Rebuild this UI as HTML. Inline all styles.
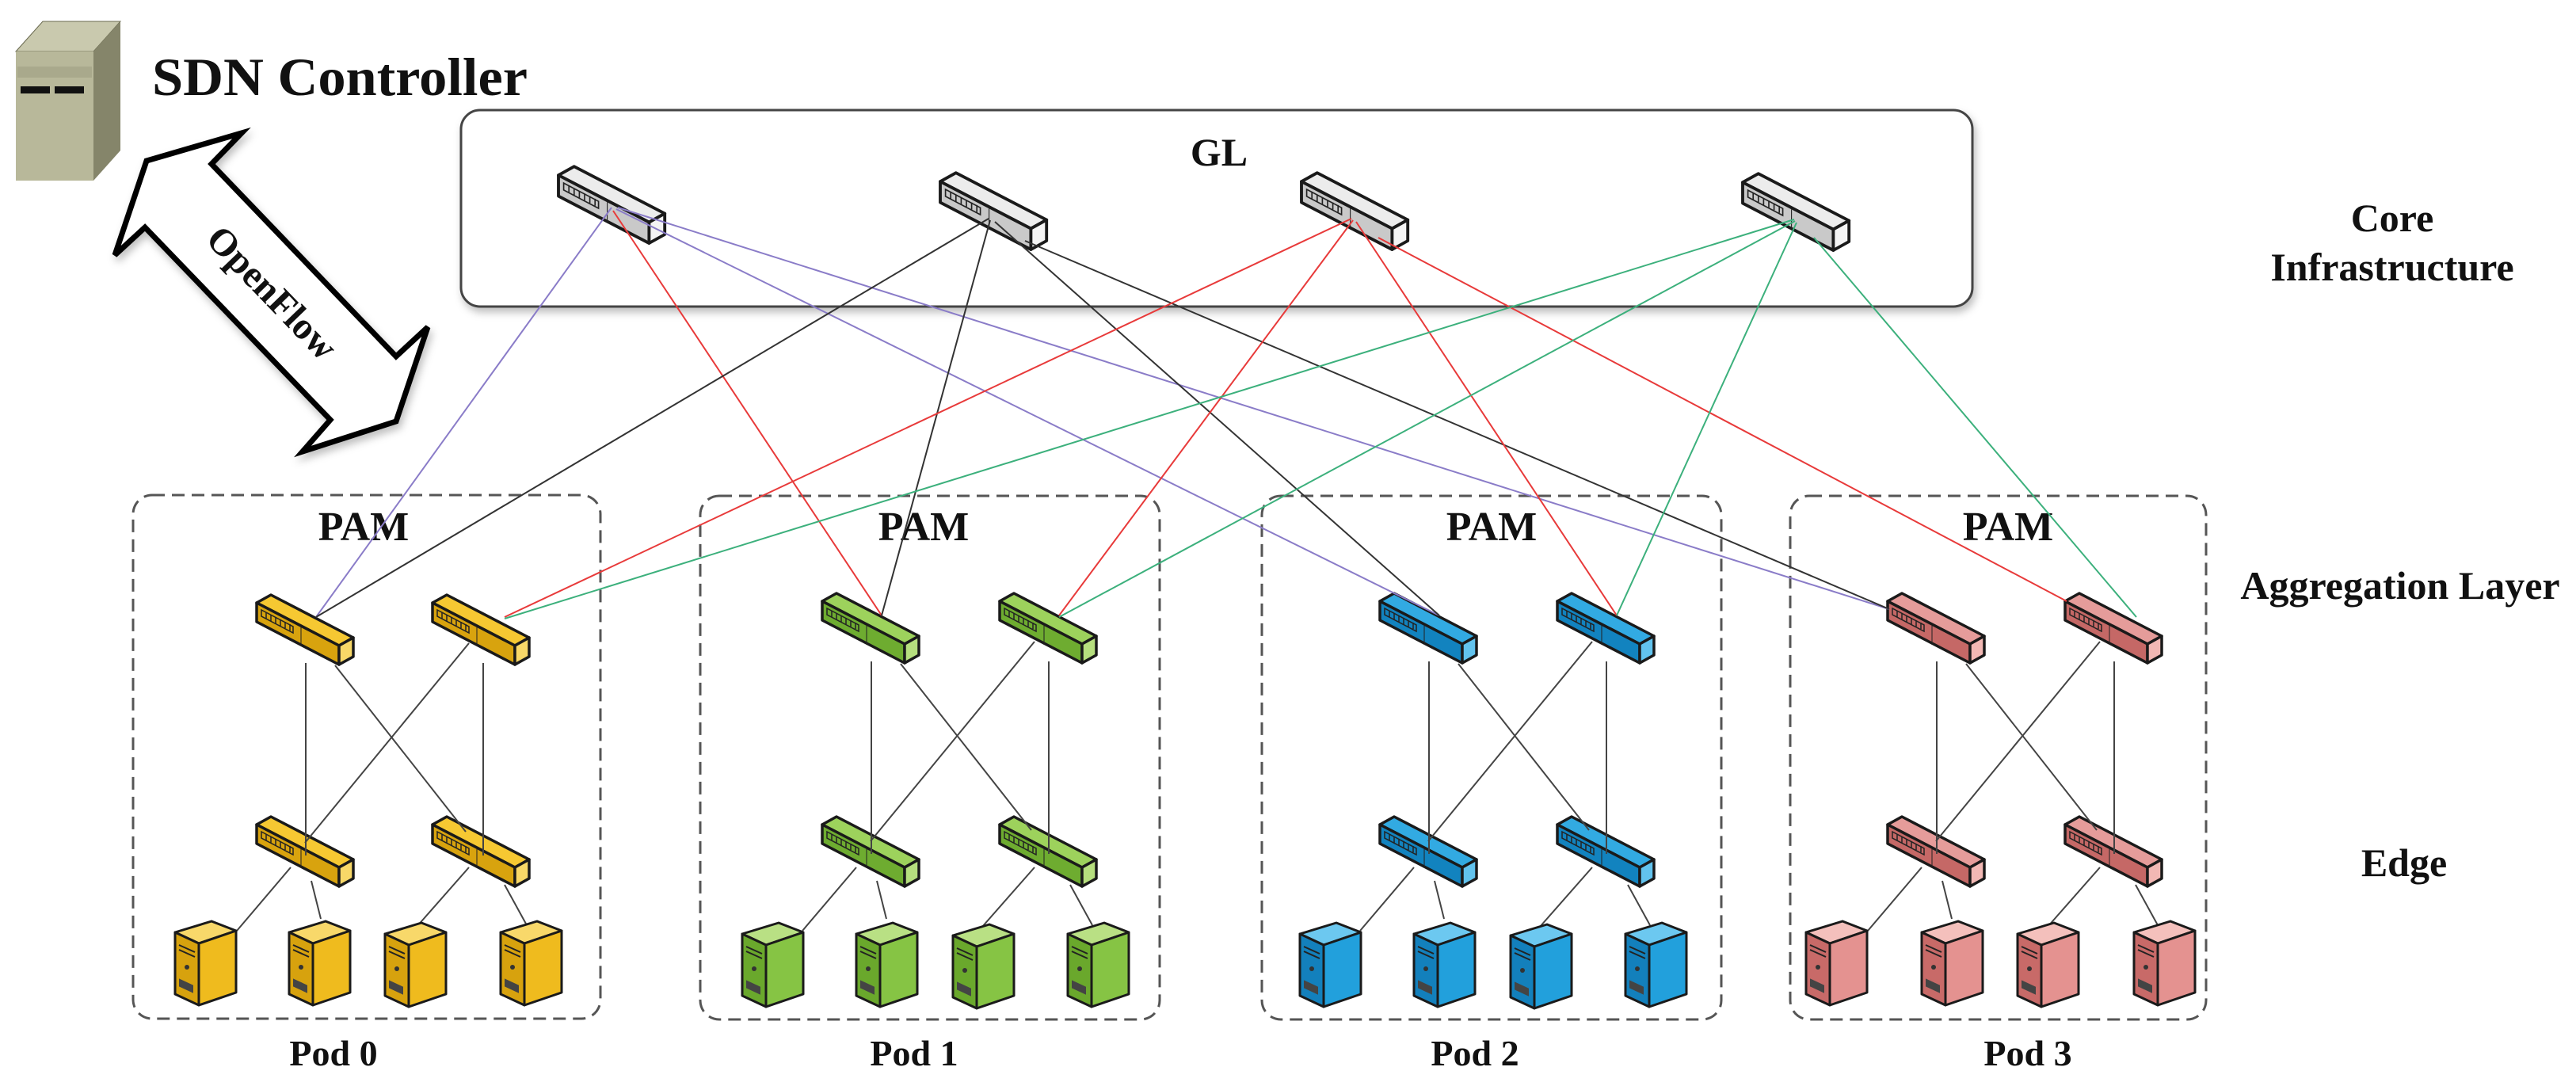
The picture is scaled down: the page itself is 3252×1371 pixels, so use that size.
<!DOCTYPE html>
<html><head><meta charset="utf-8"><style>
html,body{margin:0;padding:0;background:#fff;}
svg{display:block;}
text{font-family:"Liberation Serif",serif;font-weight:bold;fill:#111;}
</style></head><body>
<svg width="3252" height="1371" viewBox="0 0 3252 1371" xmlns="http://www.w3.org/2000/svg">
<defs>
<symbol id="sw" viewBox="0 0 122 90" width="122" height="90" overflow="visible">
  <polygon points="0,12 18,2 122,56 104,66" fill="var(--t)" stroke="#1a1a1a" stroke-width="3.5" stroke-linejoin="round"/>
  <polygon points="0,12 104,66 104,90 0,36" fill="var(--f)" stroke="#1a1a1a" stroke-width="3.5" stroke-linejoin="round"/>
  <polygon points="104,66 122,56 122,80 104,90" fill="var(--e)" stroke="#1a1a1a" stroke-width="3.5" stroke-linejoin="round"/>
  <polygon points="6,21 46,42 46,50 6,29" fill="none" stroke="#222" stroke-width="1.5"/>
  <path d="M12,24 v8 M18,27 v8 M24,30 v8 M30,33 v8 M36,36 v8 M42,39 v8" stroke="#222" stroke-width="1.5"/>
  <path d="M56,43 v24" stroke="#222" stroke-width="1"/>
</symbol>
<symbol id="srv" viewBox="0 0 77 106" width="77" height="106" overflow="visible">
  <polygon points="0,14 46,0 77,12 30,28" fill="var(--t)" stroke="#1a1a1a" stroke-width="3" stroke-linejoin="round"/>
  <polygon points="0,14 30,28 30,106 0,92" fill="var(--f)" stroke="#1a1a1a" stroke-width="3" stroke-linejoin="round"/>
  <polygon points="30,28 77,12 77,90 30,106" fill="var(--e)" stroke="#1a1a1a" stroke-width="3" stroke-linejoin="round"/>
  <path d="M5,30 l20,9 M5,36 l20,9" stroke="#222" stroke-width="2"/>
  <circle cx="15" cy="58" r="3" fill="#333"/>
  <rect x="5" y="74" width="18" height="10" fill="#444" transform="skewY(25) translate(0,-4)"/>
</symbol>
<filter id="sh" x="-5%" y="-10%" width="110%" height="130%"><feDropShadow dx="3" dy="6" stdDeviation="5" flood-color="#000" flood-opacity="0.25"/></filter>
</defs>

<!-- SDN controller server -->
<polygon points="20,65 54,27 152,27 118,65" fill="#c9c9ae" stroke="#6a6a50" stroke-width="1"/>
<polygon points="118,65 152,27 152,190 118,228" fill="#85856a"/>
<rect x="20" y="65" width="98" height="163" fill="#b8b89a"/>
<rect x="22" y="84" width="94" height="14" fill="#a9a98c"/>
<rect x="26" y="109" width="37" height="9" fill="#111"/>
<rect x="69" y="109" width="37" height="9" fill="#111"/>
<text x="192" y="120" font-size="68" textLength="474" lengthAdjust="spacingAndGlyphs">SDN Controller</text>

<!-- OpenFlow arrow -->
<polygon points="185,203 305,168 267,207 500,450 540,413 500,532 382,570 417,530 183,287 145,322" fill="#fff" stroke="#000" stroke-width="7" stroke-linejoin="miter" filter="url(#sh)"/>
<text x="340" y="373" font-size="48" text-anchor="middle" dominant-baseline="middle" transform="rotate(46 340 373)">OpenFlow</text>

<!-- GL box -->
<rect x="582" y="139" width="1908" height="248" rx="24" fill="#fff" stroke="#444" stroke-width="3" filter="url(#sh)"/>
<text x="1539" y="209" font-size="50" text-anchor="middle">GL</text>

<!-- right labels -->
<text x="3020" y="292" font-size="50" text-anchor="middle">Core</text>
<text x="3020" y="354" font-size="50" text-anchor="middle">Infrastructure</text>
<text x="3030" y="756" font-size="50" text-anchor="middle">Aggregation Layer</text>
<text x="3035" y="1106" font-size="50" text-anchor="middle">Edge</text>

<!-- pod boxes -->
<g fill="none" stroke="#555" stroke-width="3" stroke-dasharray="16 9">
<rect x="168" y="625" width="590" height="661" rx="24"/>
<rect x="884" y="626" width="580" height="661" rx="24"/>
<rect x="1593" y="626" width="580" height="661" rx="24"/>
<rect x="2260" y="626" width="525" height="661" rx="24"/>
</g>
<g font-size="52" text-anchor="middle">
<text x="459" y="682">PAM</text>
<text x="1166" y="682">PAM</text>
<text x="1883" y="682">PAM</text>
<text x="2535" y="682">PAM</text>
</g>
<g font-size="46" text-anchor="middle">
<text x="421" y="1345">Pod 0</text>
<text x="1154" y="1345">Pod 1</text>
<text x="1862" y="1345">Pod 2</text>
<text x="2560" y="1345">Pod 3</text>
</g>

<!-- core switches -->
<g style="--t:#ececec;--f:#c9c9c9;--e:#f4f4f4">
<use href="#sw" x="0" y="0" transform="translate(705,208) scale(1.1,1.1)"/>
<use href="#sw" x="0" y="0" transform="translate(1187,216) scale(1.1,1.1)"/>
<use href="#sw" x="0" y="0" transform="translate(1643,216) scale(1.1,1.1)"/>
<use href="#sw" x="0" y="0" transform="translate(2200,217) scale(1.1,1.1)"/>
</g>

<!-- pods: switches -->
<g style="--t:#f6c832;--f:#d8a30e;--e:#f8d868">
<use href="#sw" x="324" y="749"/><use href="#sw" x="546" y="749"/>
<use href="#sw" x="324" y="1029"/><use href="#sw" x="546" y="1029"/>
</g>
<g style="--t:#9dd25c;--f:#6eac30;--e:#b6df7e">
<use href="#sw" x="1038" y="747"/><use href="#sw" x="1262" y="747"/>
<use href="#sw" x="1038" y="1029"/><use href="#sw" x="1262" y="1029"/>
</g>
<g style="--t:#32aae2;--f:#1283bf;--e:#62c3ee">
<use href="#sw" x="1742" y="747"/><use href="#sw" x="1966" y="747"/>
<use href="#sw" x="1742" y="1029"/><use href="#sw" x="1966" y="1029"/>
</g>
<g style="--t:#e59c9a;--f:#c56866;--e:#f2b8b4">
<use href="#sw" x="2383" y="747"/><use href="#sw" x="2607" y="747"/>
<use href="#sw" x="2383" y="1029"/><use href="#sw" x="2607" y="1029"/>
</g>

<!-- core links -->
<g stroke-width="2" fill="none">
<g stroke="#8a7cc8">
<line x1="772" y1="262" x2="399" y2="779"/>
<line x1="778" y1="264" x2="1817" y2="777"/>
<line x1="780" y1="262" x2="2385" y2="769"/>
</g>
<line stroke="#e83a3a" x1="774" y1="266" x2="1113" y2="777"/>
<g stroke="#333">
<line x1="1248" y1="276" x2="399" y2="779"/>
<line x1="1250" y1="278" x2="1113" y2="777"/>
<line x1="1256" y1="280" x2="1817" y2="777"/>
<line x1="1294" y1="304" x2="2385" y2="769"/>
</g>
<g stroke="#e83a3a">
<line x1="1706" y1="276" x2="637" y2="779"/>
<line x1="1708" y1="278" x2="1337" y2="777"/>
<line x1="1712" y1="280" x2="2041" y2="777"/>
<line x1="1740" y1="300" x2="2609" y2="759"/>
</g>
<g stroke="#3cb07c">
<line x1="2265" y1="277" x2="637" y2="781"/>
<line x1="2266" y1="279" x2="1337" y2="779"/>
<line x1="2268" y1="281" x2="2041" y2="777"/>
<line x1="2290" y1="300" x2="2697" y2="779"/>
</g>
</g>

<!-- intra-pod links -->
<g stroke="#444" stroke-width="2" fill="none">
<g transform="translate(168,0)">
<line x1="218" y1="837" x2="218" y2="1080"/><line x1="442" y1="837" x2="442" y2="1080"/>
<line x1="255" y1="840" x2="420" y2="1050"/><line x1="424" y1="812" x2="217" y2="1064"/>
<line x1="199" y1="1095" x2="131" y2="1175"/><line x1="225" y1="1112" x2="237" y2="1160"/>
<line x1="424" y1="1095" x2="358" y2="1170"/><line x1="469" y1="1117" x2="497" y2="1168"/>
</g>
<g transform="translate(882,-2)">
<line x1="218" y1="837" x2="218" y2="1080"/><line x1="442" y1="837" x2="442" y2="1080"/>
<line x1="255" y1="840" x2="420" y2="1050"/><line x1="424" y1="812" x2="217" y2="1064"/>
<line x1="199" y1="1097" x2="131" y2="1177"/><line x1="225" y1="1114" x2="237" y2="1162"/>
<line x1="424" y1="1097" x2="358" y2="1172"/><line x1="469" y1="1119" x2="497" y2="1170"/>
</g>
<g transform="translate(1586,-2)">
<line x1="218" y1="837" x2="218" y2="1080"/><line x1="442" y1="837" x2="442" y2="1080"/>
<line x1="255" y1="840" x2="420" y2="1050"/><line x1="424" y1="812" x2="217" y2="1064"/>
<line x1="199" y1="1097" x2="131" y2="1177"/><line x1="225" y1="1114" x2="237" y2="1162"/>
<line x1="424" y1="1097" x2="358" y2="1172"/><line x1="469" y1="1119" x2="497" y2="1170"/>
</g>
<g transform="translate(2227,-2)">
<line x1="218" y1="837" x2="218" y2="1080"/><line x1="442" y1="837" x2="442" y2="1080"/>
<line x1="255" y1="840" x2="420" y2="1050"/><line x1="424" y1="812" x2="217" y2="1064"/>
<line x1="199" y1="1097" x2="131" y2="1177"/><line x1="225" y1="1114" x2="237" y2="1162"/>
<line x1="424" y1="1097" x2="358" y2="1172"/><line x1="469" y1="1119" x2="497" y2="1170"/>
</g>
</g>

<!-- servers -->
<g style="--t:#f8d86a;--f:#d7a20e;--e:#efbb1e">
<use href="#srv" x="221" y="1163"/><use href="#srv" x="365" y="1163"/><use href="#srv" x="486" y="1165"/><use href="#srv" x="632" y="1163"/>
</g>
<g style="--t:#b9e084;--f:#6aa82c;--e:#86c444">
<use href="#srv" x="937" y="1165"/><use href="#srv" x="1081" y="1165"/><use href="#srv" x="1203" y="1167"/><use href="#srv" x="1348" y="1165"/>
</g>
<g style="--t:#6cc8f0;--f:#1380bc;--e:#22a0dc">
<use href="#srv" x="1641" y="1165"/><use href="#srv" x="1785" y="1165"/><use href="#srv" x="1907" y="1167"/><use href="#srv" x="2052" y="1165"/>
</g>
<g style="--t:#f4c0bc;--f:#c86a68;--e:#e49290">
<use href="#srv" x="2280" y="1163"/><use href="#srv" x="2426" y="1163"/><use href="#srv" x="2547" y="1165"/><use href="#srv" x="2694" y="1163"/>
</g>
</svg>
</body></html>
